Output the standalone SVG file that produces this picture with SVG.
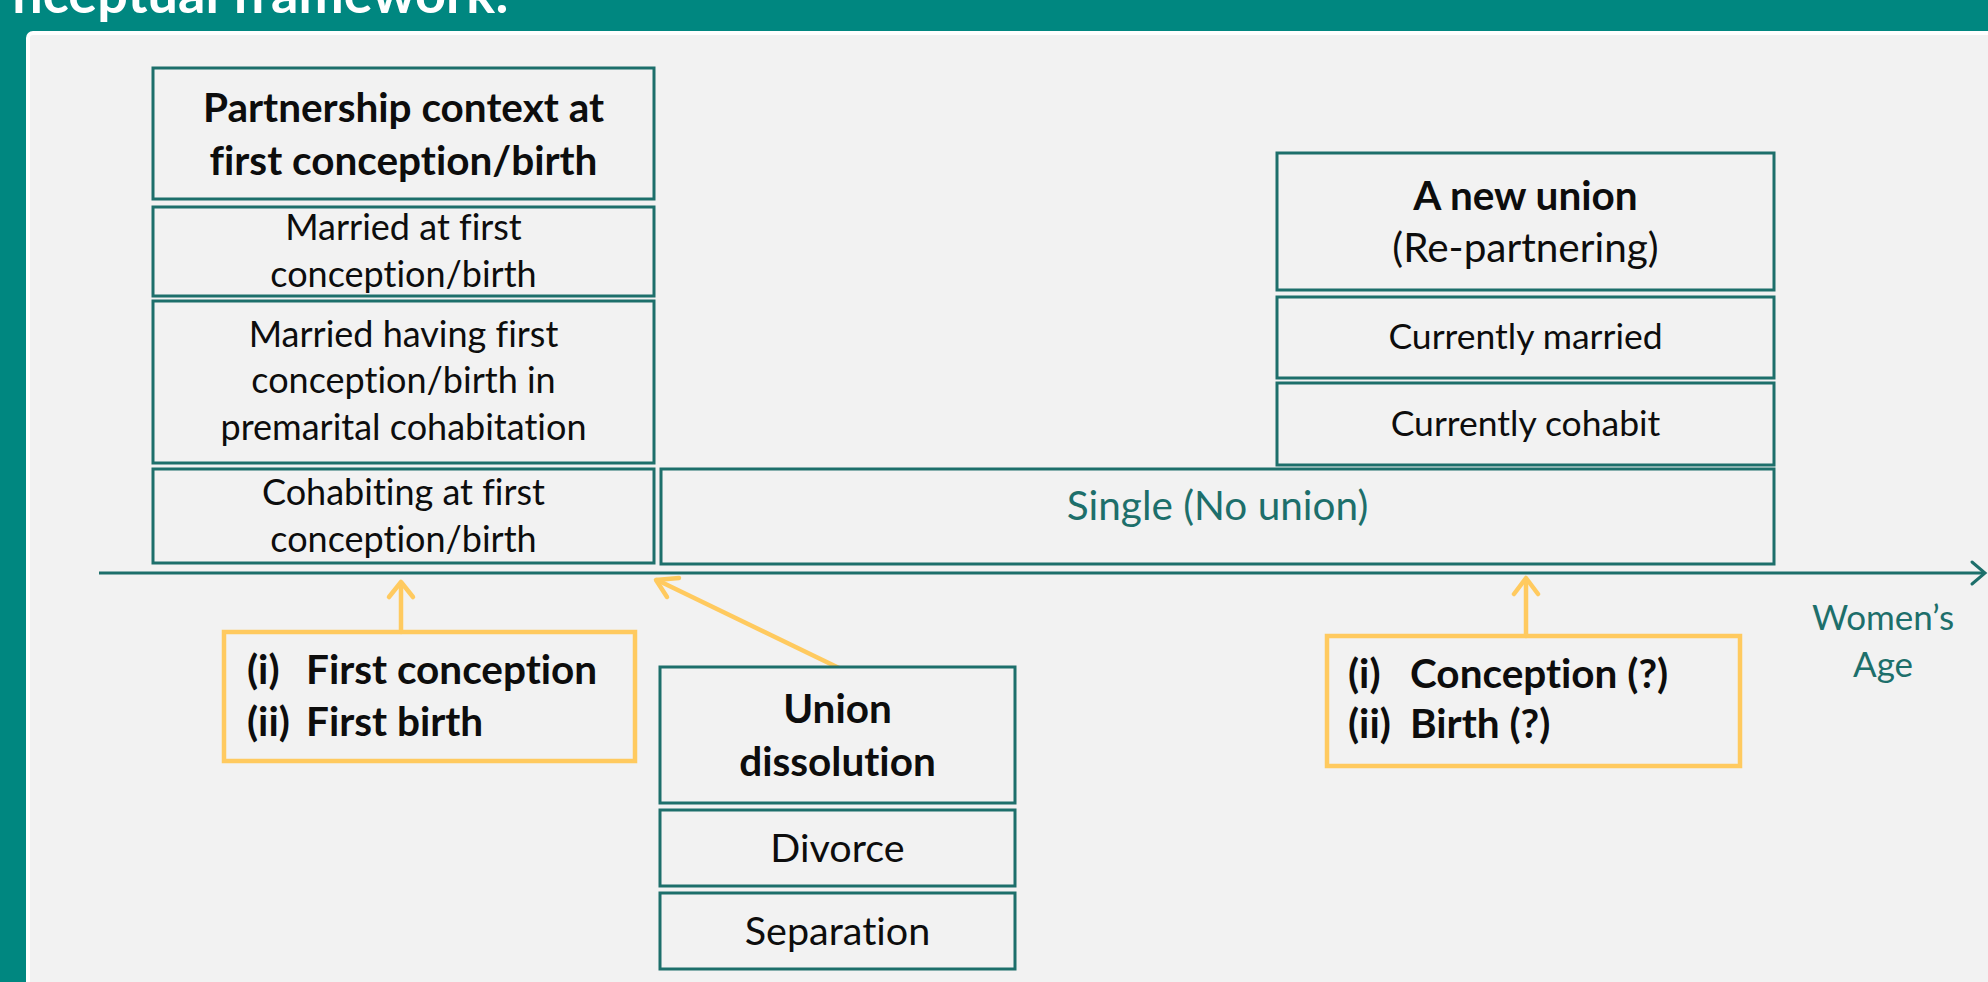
<svg xmlns="http://www.w3.org/2000/svg" width="1988" height="982" viewBox="0 0 1988 982">
<style>
text{font-variant-ligatures:none;font-feature-settings:"liga" 0,"dlig" 0}
.box{fill:#F2F2F2;stroke:#1D6F6B;stroke-width:3}
.ybox{fill:none;stroke:#FFCA5F;stroke-width:4.5}
.yarr{fill:none;stroke:#FFCA5F;stroke-width:4.5;stroke-linecap:round;stroke-linejoin:round}
.t{font-family:Lato,"Liberation Sans",sans-serif;fill:#0D0D0D;text-anchor:middle}
.b{font-weight:bold}
.tl{font-family:Lato,"Liberation Sans",sans-serif;fill:#0D0D0D;font-weight:bold}
.teal{fill:#1D6F6B}
</style>
<rect x="0" y="0" width="1988" height="982" fill="#008780"/>
<text x="509" y="13" font-family="Lato,'Liberation Sans',sans-serif" font-weight="bold" font-size="54" fill="#FFFFFF" text-anchor="end">nceptual framework:</text>
<rect x="28" y="33" width="1980" height="970" rx="5" fill="#F2F2F2" stroke="#FFFFFF" stroke-width="4"/>

<g id="connectors">
<line x1="99" y1="573" x2="1985" y2="573" stroke="#1D6F6B" stroke-width="3"/>
<path d="M1972,562 L1985,573 L1972,584" fill="none" stroke="#1D6F6B" stroke-width="3" stroke-linecap="round"/>
<line class="yarr" x1="401" y1="632" x2="401" y2="583"/>
<path class="yarr" d="M389,597 L401,582 L413,597"/>
<line class="yarr" x1="839" y1="668" x2="657" y2="580"/>
<path class="yarr" d="M667,597 L656,580 L679,578"/>
<line class="yarr" x1="1526" y1="636" x2="1526" y2="580"/>
<path class="yarr" d="M1514,594 L1526,578 L1538,594"/>
</g>

<g id="partnership-header">
<rect class="box" x="153" y="68" width="501" height="131"/>
<text class="t b" x="403.5" y="122" font-size="40.5">Partnership context at</text>
<text class="t b" x="403.5" y="175" font-size="40.5">first conception/birth</text>
</g>
<g id="married-first">
<rect class="box" x="153" y="207" width="501" height="89"/>
<text class="t" x="403.5" y="240" font-size="36">Married at first</text>
<text class="t" x="403.5" y="287" font-size="36">conception/birth</text>
</g>
<g id="married-premarital">
<rect class="box" x="153" y="301" width="501" height="162"/>
<text class="t" x="403.5" y="347" font-size="36">Married having first</text>
<text class="t" x="403.5" y="393" font-size="36">conception/birth in</text>
<text class="t" x="403.5" y="440" font-size="36">premarital cohabitation</text>
</g>
<g id="cohabiting-first">
<rect class="box" x="153" y="469" width="501" height="94"/>
<text class="t" x="403.5" y="505" font-size="36">Cohabiting at first</text>
<text class="t" x="403.5" y="552" font-size="36">conception/birth</text>
</g>
<g id="single">
<rect class="box" x="661" y="469" width="1113" height="95"/>
<text class="t teal" x="1217.5" y="520" font-size="40.5">Single (No union)</text>
</g>
<g id="new-union">
<rect class="box" x="1277" y="153" width="497" height="137"/>
<text class="t b" x="1525.5" y="210" font-size="40.5">A new union</text>
<text class="t" x="1525.5" y="262" font-size="40.5">(Re-partnering)</text>
</g>
<g id="currently-married">
<rect class="box" x="1277" y="297" width="497" height="81"/>
<text class="t" x="1525.5" y="349" font-size="35.5">Currently married</text>
</g>
<g id="currently-cohabit">
<rect class="box" x="1277" y="383" width="497" height="82"/>
<text class="t" x="1525.5" y="436" font-size="35.5">Currently cohabit</text>
</g>
<g id="union-dissolution">
<rect class="box" x="660" y="667" width="355" height="136"/>
<text class="t b" x="837.5" y="723" font-size="40.5">Union</text>
<text class="t b" x="837.5" y="776" font-size="40.5">dissolution</text>
</g>
<g id="divorce">
<rect class="box" x="660" y="810" width="355" height="76"/>
<text class="t" x="837.5" y="862" font-size="39.5">Divorce</text>
</g>
<g id="separation">
<rect class="box" x="660" y="893" width="355" height="76"/>
<text class="t" x="837.5" y="945" font-size="39.5">Separation</text>
</g>
<g id="first-events">
<rect class="ybox" x="224" y="632" width="411" height="129"/>
<text class="tl" x="247" y="684" font-size="40.5">(i)</text>
<text class="tl" x="306" y="684" font-size="40.5">First conception</text>
<text class="tl" x="247" y="736" font-size="40.5">(ii)</text>
<text class="tl" x="306" y="736" font-size="40.5">First birth</text>
</g>
<g id="later-events">
<rect class="ybox" x="1327" y="636" width="413" height="130"/>
<text class="tl" x="1348" y="688" font-size="40.5">(i)</text>
<text class="tl" x="1410" y="688" font-size="40.5">Conception (?)</text>
<text class="tl" x="1348" y="738" font-size="40.5">(ii)</text>
<text class="tl" x="1410" y="738" font-size="40.5">Birth (?)</text>
</g>
<g id="axis-label">
<text class="t teal" x="1883" y="630" font-size="35">Women’s</text>
<text class="t teal" x="1883" y="677" font-size="35">Age</text>
</g>
</svg>
